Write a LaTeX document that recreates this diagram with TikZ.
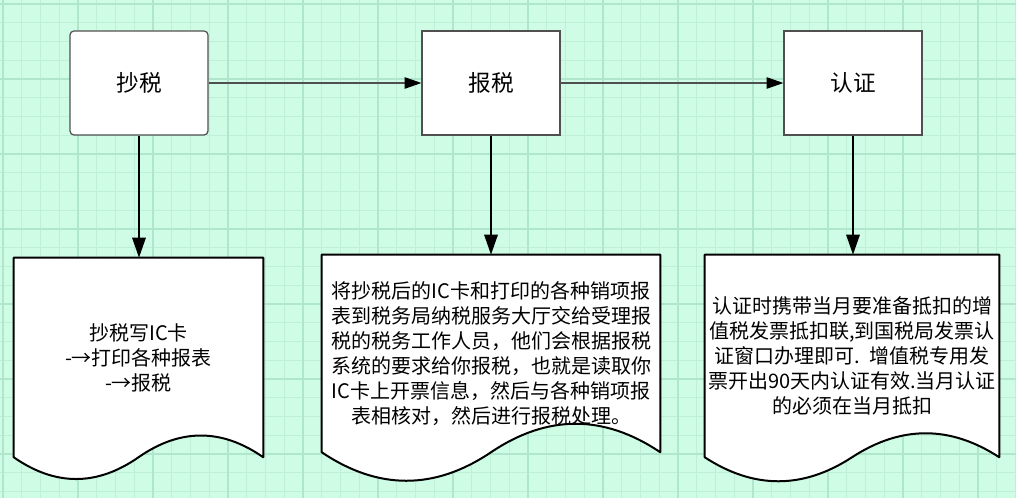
\documentclass[tikz,border=0pt]{standalone}
\usepackage{fontspec}
\setmainfont{Noto Sans CJK SC}
\usetikzlibrary{arrows.meta,calc,backgrounds}
\definecolor{paper}{RGB}{206,252,229}
\definecolor{minorgrid}{RGB}{190,240,215}
\definecolor{majorgrid}{RGB}{176,230,203}
\definecolor{boxgray}{RGB}{80,80,80}
\tikzset{
  stepbox/.style={draw=boxgray, line width=0.9pt, fill=white,
    minimum width=103.5pt, minimum height=78pt, font=\fontsize{17}{20}\selectfont},
  docarea/.style={inner sep=0pt, align=center, font=\fontsize{15}{18.75}\selectfont},
  docline/.style={draw=black, line width=1.5pt, fill=white, line join=round},
  flow/.style={draw=boxgray, line width=0.8pt, -{Triangle[length=12.5pt,width=8.5pt,black]}},
  drop/.style={line width=1.5pt, -{Triangle[length=15pt,width=10pt]}},
}
% document outline: node name, wave offset
\newcommand{\wavedoc}[2]{%
  \draw[docline] (#1.south east) -- (#1.north east) -- (#1.north west) -- (#1.south west)
    .. controls ($(#1.south west)!0.1667!(#1.south east)+(0,#2)$)
            and ($(#1.south west)!0.3333!(#1.south east)+(0,#2)$) .. (#1.south)
    .. controls ($(#1.south west)!0.6667!(#1.south east)-(0,#2)$)
            and ($(#1.south west)!0.8333!(#1.south east)-(0,#2)$) .. (#1.south east) -- cycle;}
\begin{document}
\begin{tikzpicture}[x=0.75pt,y=-0.75pt]
  \useasboundingbox (0,0) rectangle (1016,498);
  % steps
  \node[stepbox, rounded corners=3pt] (chao) at (139,83) {抄税};
  \node[stepbox] (bao) at (491,83) {报税};
  \node[stepbox] (ren) at (853,83) {认证};
  % notes
  \node[docarea, minimum width=186.75pt, minimum height=149.25pt] (chaonote) at (138.5,357.5)
    {抄税写IC卡\\-→打印各种报表\\-→报税};
  \node[docarea, minimum width=253.5pt, minimum height=147.75pt] (baonote) at (491,353.5)
    {将抄税后的IC卡和打印的各种销项报\\表到税务局纳税服务大厅交给受理报\\税的税务工作人员，他们会根据报税\\系统的要求给你报税，也就是读取你\\IC卡上开票信息，然后与各种销项报\\表相核对，然后进行报税处理。};
  \node[docarea, minimum width=220.5pt, minimum height=151.5pt] (rennote) at (852,356)
    {认证时携带当月要准备抵扣的增\\值税发票抵扣联,到国税局发票认\\证窗口办理即可.\enspace 增值税专用发\\票开出90天内认证有效.当月认证\\的必须在当月抵扣};
  % arrows
  \draw[flow] (chao) -- (bao);
  \draw[flow] (bao) -- (ren);
  \draw[drop] (chao) -- (chao |- chaonote.north);
  \draw[drop] (bao) -- (bao |- baonote.north);
  \draw[drop] (ren) -- (ren |- rennote.north);
  \begin{scope}[on background layer]
    % grid paper
    \fill[paper] (0,0) rectangle (1016,498);
    \foreach \i in {0,...,54}
      \draw[minorgrid, line width=0.75pt] ({3+18.75*\i},0) -- ({3+18.75*\i},498);
    \foreach \i in {0,...,26}
      \draw[minorgrid, line width=0.75pt] (0,{4+18.75*\i}) -- (1016,{4+18.75*\i});
    \foreach \i in {0,...,13}
      \draw[majorgrid, line width=1pt] ({3+75*\i},0) -- ({3+75*\i},498);
    \foreach \i in {0,...,6}
      \draw[majorgrid, line width=1pt] (0,{4+75*\i}) -- (1016,{4+75*\i});
    % note shapes
    \wavedoc{chaonote}{29}
    \wavedoc{baonote}{38}
    \wavedoc{rennote}{32}
  \end{scope}
\end{tikzpicture}
\end{document}
